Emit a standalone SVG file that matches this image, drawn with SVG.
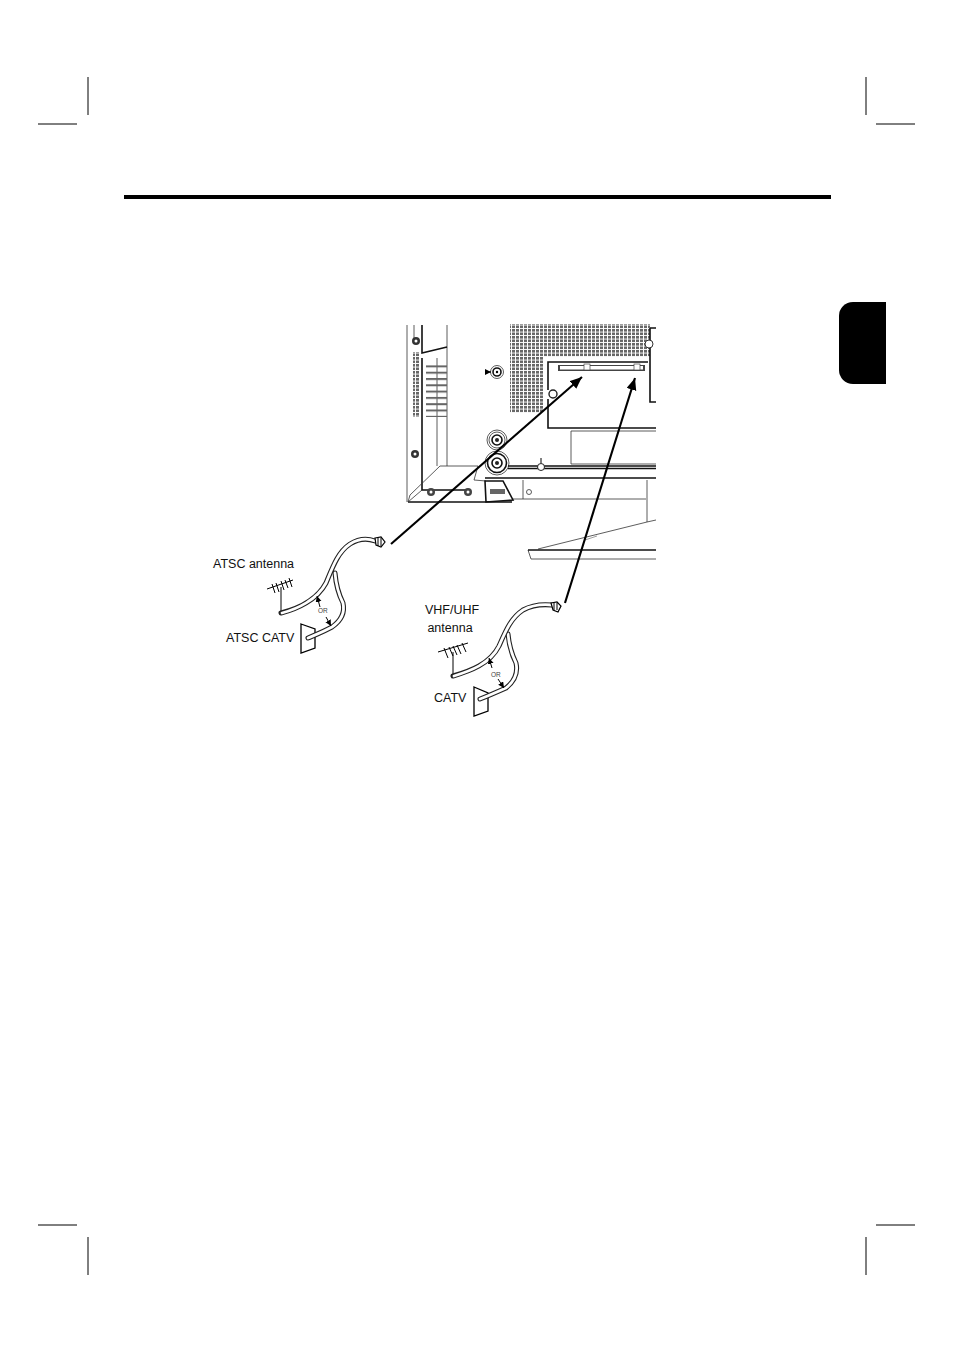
<svg xmlns="http://www.w3.org/2000/svg" width="954" height="1350" viewBox="0 0 954 1350">
<defs>
<style>
.l{fill:none;stroke:#000;stroke-width:1}
.m{fill:none;stroke:#111;stroke-width:1.6}
.t{fill:none;stroke:#333;stroke-width:.8}
.g{fill:none;stroke:#777;stroke-width:.7}
.co{fill:none;stroke:#222;stroke-width:5;stroke-linecap:round}
.ci{fill:none;stroke:#fff;stroke-width:2.800;stroke-linecap:round}
.lab{font-family:"Liberation Sans",Arial,sans-serif;font-size:12.500px;fill:#111}
.or{font-family:"Liberation Sans",Arial,sans-serif;font-size:6.500px;fill:#444}
.ar{fill:none;stroke:#000;stroke-width:2.100}
</style>
<marker id="ah" markerUnits="userSpaceOnUse" markerWidth="14" markerHeight="12" refX="12" refY="5" orient="auto"><path d="M0 0L12 5L0 10z" fill="#000"/></marker>
<marker id="sa" markerUnits="userSpaceOnUse" markerWidth="8" markerHeight="8" refX="6" refY="3" orient="auto"><path d="M0 0L6 3L0 6z" fill="#000"/></marker>
<pattern id="vent" width="4" height="3.500" patternUnits="userSpaceOnUse"><rect width="4" height="3.500" fill="#fff"/><rect width="3" height="2.600" fill="#666"/></pattern>
<pattern id="rows" width="20" height="6.300" patternUnits="userSpaceOnUse"><rect width="20" height="2" fill="#666"/></pattern>
</defs>
<rect width="954" height="1350" fill="#fff"/>
<g id="page">
<rect x="124" y="195" width="707" height="4" fill="#000"/>
<path d="M839 316a14 14 0 0 1 14-14H886V384H853a14 14 0 0 1-14-14z" fill="#000"/>
<path class="l" d="M88 77V115M38 124H77M866 77V115M876 124H915M88 1237V1275M38 1225H77M866 1237V1275M876 1225H915"/>
</g>
<g id="tv">
<rect x="510" y="324" width="140" height="33" fill="url(#vent)"/>
<rect x="510" y="324" width="33" height="89" fill="url(#vent)"/>
<path class="t" d="M407 325V502M437 358V466M447 325V466M414 325V340"/>
<path class="m" d="M422 358V490H468M422 325V353L447 347"/>
<path class="m" d="M408 502H486"/>
<path class="t" d="M408 502L410 495L440 466H478M422 490L408 502M478 466L474 480L486 481"/>
<rect x="426" y="365" width="21" height="52" fill="url(#rows)"/>
<rect x="413" y="352" width="7" height="65" fill="url(#vent)"/>
<circle cx="416" cy="341" r="4" fill="#333"/><circle cx="416" cy="341" r="1.500" fill="#fff"/>
<circle cx="415" cy="454" r="4" fill="#333"/><circle cx="415" cy="454" r="1.500" fill="#fff"/>
<circle cx="497" cy="372" r="6.500" class="t"/><circle cx="497" cy="372" r="4" class="m"/><circle cx="497" cy="372" r="1.200" fill="#000"/>
<path d="M485 372H491" class="l" marker-end="url(#sa)"/>
<path class="m" d="M548 390V362H648M548 399V428H656M650 328H656M650 328V402H656"/>
<rect x="558" y="365" width="87" height="6" fill="#444"/>
<rect x="560" y="366" width="83" height="3.500" fill="#fff"/>
<rect x="584" y="364" width="6" height="6" fill="#fff" stroke="#444" stroke-width=".7"/>
<rect x="634" y="364" width="6" height="6" fill="#fff" stroke="#444" stroke-width=".7"/>
<circle cx="649" cy="344" r="4" fill="#fff" stroke="#333"/>
<circle cx="553" cy="394" r="4" fill="#fff" stroke="#222" stroke-width="1.400"/>
<path class="t" d="M656 431H571V464H656"/>
<circle cx="497" cy="440" r="10" class="t"/><circle cx="497" cy="440" r="8" class="t"/><circle cx="497" cy="440" r="5" class="m"/><circle cx="497" cy="440" r="2" fill="#222"/>
<circle cx="497" cy="463" r="12" class="t"/><circle cx="497" cy="463" r="9.500" class="m"/><circle cx="497" cy="463" r="5" class="m"/><circle cx="497" cy="463" r="2" fill="#222"/>
<path class="m" d="M508 466H656M508 468.500H656"/>
<circle cx="541" cy="467" r="3.500" fill="#fff" stroke="#222"/><path class="l" d="M541 458V463"/>
<path class="m" d="M485 478H656M486 502H512"/>
<path class="t" d="M512 499H646M523 480V499M647 480V522"/>
<circle cx="431" cy="492" r="4" fill="#444"/><circle cx="468" cy="492" r="4" fill="#444"/><circle cx="431" cy="492" r="1.500" fill="#fff"/><circle cx="468" cy="492" r="1.500" fill="#fff"/>
<path class="m" d="M485 481H503L513 500L486 502z"/>
<rect x="490" y="489" width="15" height="5" fill="#666"/>
<circle cx="529" cy="492" r="2.500" class="t"/>
<path class="t" d="M647 522L656 520M647 522L538 549M531 559H656M528 550L531 559"/>
<path class="m" d="M528 550H656"/>
<path class="g" d="M585 540L597 536"/>
</g>
<g id="atsc">
<g id="atsc-antenna">
<path class="l" d="M267 589L293 580M272 584L275 593M276 583L279 592M281 581L284 590M285 580L288 588M289 578L292 587M281 587V612"/>
</g>
<path d="M301 624L315 629V648L301 653z" fill="#fff" stroke="#000" stroke-width="1.300"/>
<path class="co" d="M335 573C336 585 339 595 343 603C345 612 342 620 332 627C325 631 315 635 308 638"/>
<path class="ci" d="M335 573C336 585 339 595 343 603C345 612 342 620 332 627C325 631 315 635 308 638"/>
<path class="co" d="M281 613C297 609 317 600 326 583C333 566 338 552 350 544C358 539 367 538 375 541"/>
<path class="ci" d="M282 613C297 609 317 600 326 583C333 566 338 552 350 544C358 539 367 538 375 541"/>
<path d="M375 538L381 537L385 542L381 547L376 545z" fill="#fff" stroke="#000" stroke-width="1.200"/>
<path class="l" d="M378 538V546M381 538V546"/>
<path class="l" d="M320 607L317 596" marker-end="url(#sa)"/>
<path class="l" d="M326 617L331 626" marker-end="url(#sa)"/>
<text class="or" x="318" y="613">OR</text>
<text class="lab" x="213" y="568">ATSC antenna</text>
<text class="lab" x="226" y="642">ATSC CATV</text>
</g>
<g id="vhf">
<g id="vhf-antenna">
<path class="l" d="M438 652L468 643M444 648L448 658M449 647L453 656M453 646L457 655M457 645L461 654M462 643L466 652M453 652V676"/>
</g>
<path d="M474 687L488 693V711L474 716z" fill="#fff" stroke="#000" stroke-width="1.300"/>
<path class="co" d="M508 634C509 645 512 655 516 663C518 672 516 680 506 688C497 692 488 696 480 699"/>
<path class="ci" d="M508 634C509 645 512 655 516 663C518 672 516 680 506 688C497 692 488 696 480 699"/>
<path class="co" d="M453 676C470 671 490 664 499 646C506 630 511 618 523 610C532 605 542 604 552 605"/>
<path class="ci" d="M454 676C470 671 490 664 499 646C506 630 511 618 523 610C532 605 542 604 552 605"/>
<path d="M551 603L557 602L561 606L558 612L553 610z" fill="#fff" stroke="#000" stroke-width="1.200"/>
<path class="l" d="M554 603V610M557 603V610"/>
<path class="l" d="M492 668L489 658" marker-end="url(#sa)"/>
<path class="l" d="M498 679L504 688" marker-end="url(#sa)"/>
<text class="or" x="491" y="677">OR</text>
<text class="lab" x="452" y="614" text-anchor="middle">VHF/UHF</text>
<text class="lab" x="450" y="632" text-anchor="middle">antenna</text>
<text class="lab" x="434" y="702">CATV</text>
</g>
<g id="connectors">
<path class="ar" d="M391 544L582 377" marker-end="url(#ah)"/>
<path class="ar" d="M565 603L635 378" marker-end="url(#ah)"/>
</g>
</svg>
